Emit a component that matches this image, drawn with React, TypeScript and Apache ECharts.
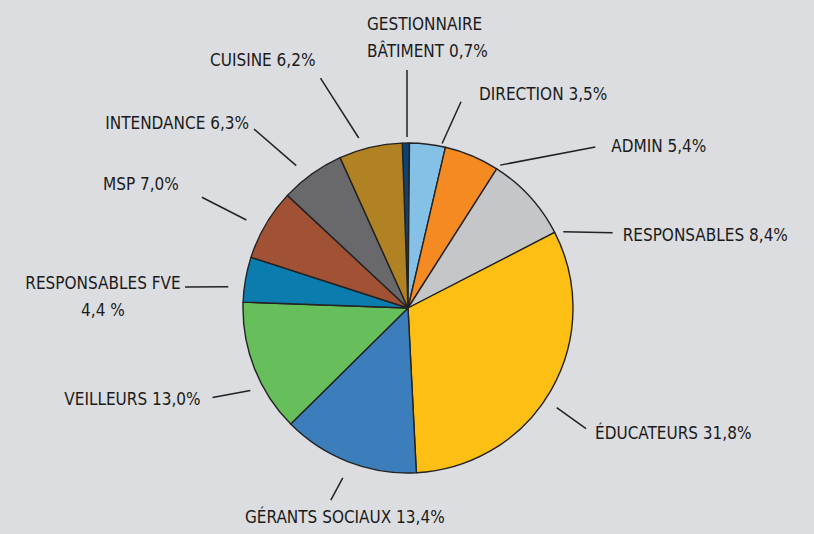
import React, { useEffect, useRef } from "react";
import * as echarts from "echarts";

// ---- data ----
const categories = [
  "GESTIONNAIRE\nBÂTIMENT",
  "DIRECTION",
  "ADMIN",
  "RESPONSABLES",
  "ÉDUCATEURS",
  "GÉRANTS SOCIAUX",
  "VEILLEURS",
  "RESPONSABLES FVE",
  "MSP",
  "INTENDANCE",
  "CUISINE",
];
const shares = [0.7, 3.5, 5.4, 8.4, 31.8, 13.4, 13.0, 4.4, 7.0, 6.3, 6.2];
const colors = [
  "#0c4274",
  "#85c1e7",
  "#f48a21",
  "#c5c6c8",
  "#fdbf14",
  "#3c7dbb",
  "#67bf5c",
  "#0b7cae",
  "#a15134",
  "#69696b",
  "#b18224",
];
const nameValueJoin = [" ", " ", " ", " ", " ", " ", " ", "\n", " ", " ", " "];
const percentSuffix = ["%", "%", "%", "%", "%", "%", "%", " %", "%", "%", "%"];

// ---- layout / style (not data) ----
const CX = 408;
const CY = 308;
const R = 165;
const START_ANGLE = 92;
// [startAngleOffset, startRadius, endAngleOffset, endRadius, align, verticalAlign, dx, dy]
const guides: any[] = [
  [0.4, 171, 0.5, 238, "left", "bottom", -40, -6],
  [4.9, 168, 7.6, 213, "left", "middle", 18, -8],
  [10.0, 170, 26.5, 247, "left", "middle", 16, -1],
  [16.2, 173, 22.2, 218, "left", "middle", 10, 2],
  [3.9, 179, 4.2, 215, "left", "middle", 9, 4],
  [-0.2, 182, 0.7, 207, "center", "middle", 14, 17],
  [-6.3, 178, -3.3, 215, "right", "middle", -12, 1],
  [-3.2, 181, -4.6, 224, "center", "middle", -82, 9],
  [-1.9, 184, -2.2, 234, "right", "middle", -23, -13],
  [-2.5, 181, -5.1, 236, "right", "middle", -5, -6],
  [-3.0, 177, -7.7, 246, "right", "middle", -5, -18],
];

const FONT = "'DejaVu Sans Condensed', 'Liberation Sans Narrow', 'Liberation Sans', sans-serif";

function fmt(v: number) {
  return v.toFixed(1).replace(".", ",");
}

function polar(angDeg: number, r: number): number[] {
  const a = (angDeg * Math.PI) / 180;
  return [CX + r * Math.sin(a), CY - r * Math.cos(a)];
}

export default function App() {
  const ref = useRef<HTMLDivElement>(null);

  useEffect(() => {
    if (!ref.current) return;
    const chart = echarts.init(ref.current, undefined, { renderer: "svg" });
    const total = shares.reduce((a, b) => a + b, 0);
    const midFromData = (i: number) => {
      let before = 0;
      for (let k = 0; k < i; k++) before += shares[k];
      return 90 - START_ANGLE + ((before + shares[i] / 2) / total) * 360;
    };

    chart.setOption({
      animation: false,
      backgroundColor: "#dcdde0",
      series: [
        {
          type: "pie",
          center: [CX, CY],
          radius: R,
          startAngle: START_ANGLE,
          clockwise: true,
          avoidLabelOverlap: false,
          silent: true,
          itemStyle: { borderColor: "#232323", borderWidth: 1.4 },
          label: {
            show: true,
            position: "outside",
            color: "#1b1b1b",
            fontFamily: FONT,
            fontSize: 17,
            lineHeight: 27,
            formatter: (p: any) =>
              categories[p.dataIndex] +
              nameValueJoin[p.dataIndex] +
              fmt(shares[p.dataIndex]) +
              percentSuffix[p.dataIndex],
          },
          labelLine: {
            show: true,
            length: 20,
            length2: 0,
            smooth: false,
            lineStyle: { color: "#222222", width: 1.5 },
          },
          labelLayout: (p: any) => {
            const i = p.dataIndex;
            const g = guides[i];
            let mid = midFromData(i);
            const pts = p.labelLinePoints;
            if (pts && pts.length) {
              const x0 = pts[0][0];
              const y0 = pts[0][1];
              mid = (Math.atan2(x0 - CX, CY - y0) * 180) / Math.PI;
            }
            const s = polar(mid + g[0], g[1]);
            const e = polar(mid + g[2], g[3]);
            return {
              x: e[0] + g[6],
              y: e[1] + g[7],
              align: g[4],
              verticalAlign: g[5],
              labelLinePoints: [s, e],
            };
          },
          data: categories.map((name, i) => ({
            name,
            value: shares[i],
            itemStyle: { color: colors[i] },
          })),
        },
      ],
    });
    return () => chart.dispose();
  }, []);

  return (
    <div
      ref={ref}
      style={{ position: "fixed", left: 0, top: 0, width: 814, height: 534 }}
    />
  );
}
